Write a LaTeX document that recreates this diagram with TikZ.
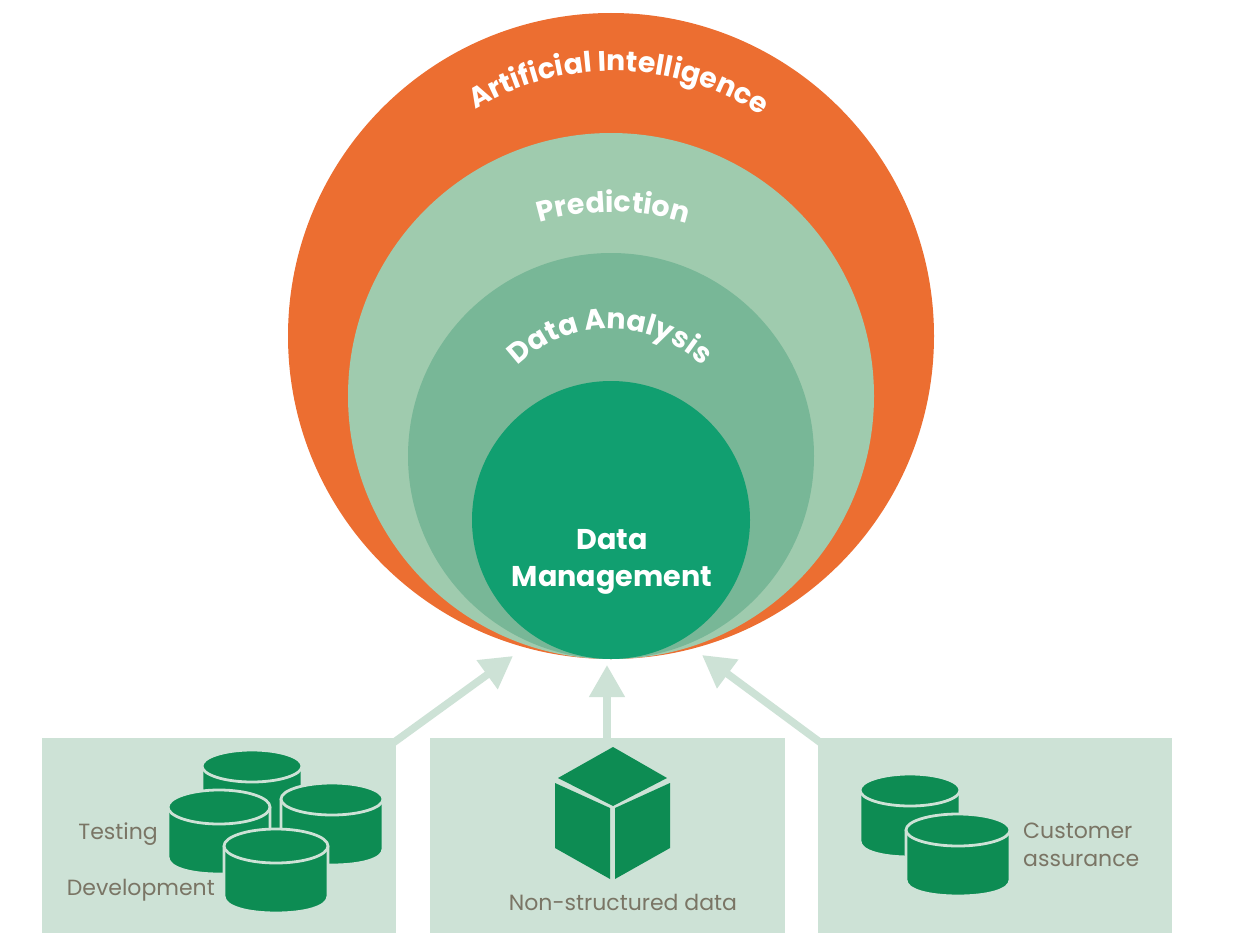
\documentclass[tikz,border=0pt]{standalone}
\usepackage{fontspec}
\setmainfont{Poppins}
\usetikzlibrary{arrows.meta,decorations.text}
\definecolor{cOrange}{HTML}{EC6E31}
\definecolor{cPred}{HTML}{9FCBAE}
\definecolor{cAna}{HTML}{78B797}
\definecolor{cMgmt}{HTML}{119F70}
\definecolor{cBox}{HTML}{CDE2D6}
\definecolor{cDark}{HTML}{0D8C53}
\definecolor{cText}{HTML}{7A7565}
\newcommand{\cyl}[5]{% cx, top cy, rx, ry, bottom cy
  \path[draw=cBox,line width=2.8pt,fill=cDark,line join=round]
    ({#1-#3},#2) -- ({#1-#3},{#5-#4}) .. controls ({#1-#3},{#5-0.35*#4}) and ({#1-0.55*#3},#5) .. (#1,#5)
    .. controls ({#1+0.55*#3},#5) and ({#1+#3},{#5-0.35*#4}) .. ({#1+#3},{#5-#4}) -- ({#1+#3},#2) -- cycle;
  \path[draw=cBox,line width=2.8pt,fill=cDark]
    ({#1-#3},#2) .. controls ({#1-#3},{#2-0.55*#4}) and ({#1-0.55*#3},{#2-#4}) .. (#1,{#2-#4})
    .. controls ({#1+0.55*#3},{#2-#4}) and ({#1+#3},{#2-0.55*#4}) .. ({#1+#3},#2)
    .. controls ({#1+#3},{#2+0.55*#4}) and ({#1+0.55*#3},{#2+#4}) .. (#1,{#2+#4})
    .. controls ({#1-0.55*#3},{#2+#4}) and ({#1-#3},{#2+0.55*#4}) .. ({#1-#3},#2) -- cycle;
}
\tikzset{
  x=1pt,y=-1pt,
  ring/.style={circle,inner sep=0pt,outer sep=0pt,draw=none},
  panel/.style={rectangle,fill=cBox,inner sep=0pt,outer sep=0pt,draw=none,anchor=north west},
  feed/.style={draw=cBox,line width=7.5pt,-{Triangle[length=32pt,width=34pt,fill=cBox]}},
  caption/.style={text=cText,font=\fontsize{22}{28}\selectfont,inner sep=0pt},
  cubeface/.style={fill=cDark,draw=none},
}
\begin{document}
\begin{tikzpicture}
\useasboundingbox (0,0) rectangle (1235,950);
\fill[white] (0,0) rectangle (1235,950);
% circles
\node[ring,fill=cOrange,minimum size=646pt] (ai) at (611,336) {};
\node[ring,fill=cPred,minimum size=526pt] (pred) at (611,396) {};
\node[ring,fill=cAna,minimum size=406pt] (ana) at (611,456) {};
\node[ring,fill=cMgmt,minimum size=278pt] (mgmt) at (611,520) {};
% curved labels
\path[decorate,decoration={text along path,text align=center,text color=white,
  text={|\fontsize{28.3}{29}\selectfont\bfseries|Artificial Intelligence}}]
  (383,206.2) .. controls (486.2,21.6) and (753.8,27.2) .. (849.2,216);
\path[decorate,decoration={text along path,text align=center,text color=white,
  text={|\fontsize{28.5}{29}\selectfont\bfseries|Prediction}}]
  (436.2,284) .. controls (533.8,187) and (692.2,188.2) .. (789.8,286.4);
\path[decorate,decoration={text along path,text align=center,text color=white,
  text={|\fontsize{28.5}{29}\selectfont\bfseries|Data Analysis}}]
  (487.8,414.5) .. controls (529.3,300.4) and (690.7,300.4) .. (732.2,414.5);
\node[text=white,font=\fontsize{28.6}{37}\selectfont\bfseries,align=center,inner sep=0pt] (mgmtlabel) at (612,562) {Data\\Management};
% panels
\node[panel,minimum width=354pt,minimum height=195pt] (p1) at (42,738) {};
\node[panel,minimum width=355pt,minimum height=195pt] (p2) at (430,738) {};
\node[panel,minimum width=354pt,minimum height=195pt] (p3) at (818,738) {};
% connectors
\coordinate (t1) at (513,656);
\coordinate (t2) at (607,665);
\coordinate (t3) at (702,655);
\coordinate (s2) at (607,740);
\draw[feed] ([shift={(-3,5)}]p1.north east) -- (t1);
\draw[feed] (s2) -- (t2);
\draw[feed] ([shift={(3,5)}]p3.north west) -- (t3);
% left cylinders
\cyl{252}{766}{50}{16}{845}
\cyl{332}{799}{51}{16}{865}
\cyl{219}{807}{51}{17}{874}
\cyl{276}{846}{52}{17}{913}
% cube
\fill[cubeface] (613,747) -- (667,778) -- (613,806) -- (558,778) -- cycle;
\fill[cubeface] (555,783) -- (610,808) -- (610,879) -- (555,848) -- cycle;
\fill[cubeface] (615,808) -- (670,783) -- (670,848) -- (615,879) -- cycle;
% right cylinders
\cyl{910}{790}{50}{16}{857}
\cyl{958}{830}{52}{16}{896}
% captions
\node[caption,anchor=east] (testing) at (158,834) {Testing};
\node[caption,anchor=east] (dev) at (215,890) {Development};
\node[caption] (nsd) at (623,902) {Non-structured data};
\node[caption,anchor=west,align=left] (cust) at (1023,845) {Customer\\assurance};
\end{tikzpicture}
\end{document}
